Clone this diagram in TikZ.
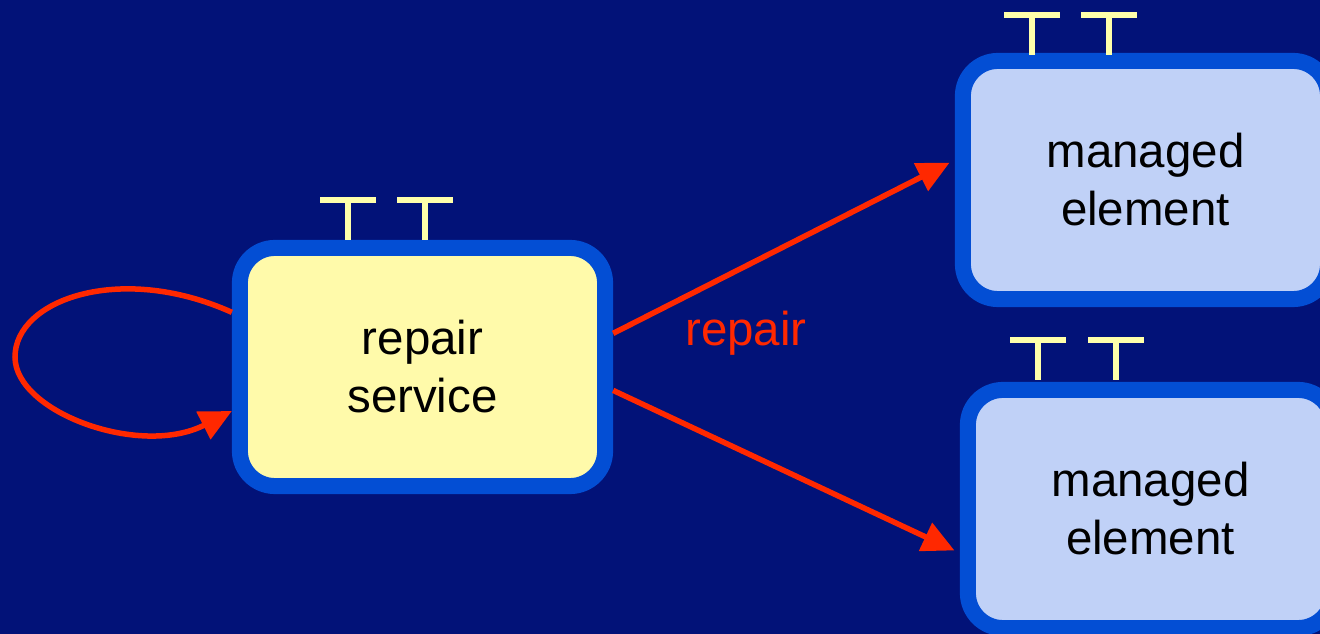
\documentclass[tikz,border=0pt]{standalone}
\usepackage{fontspec}
\setmainfont{Liberation Sans}
\usetikzlibrary{arrows.meta}

\definecolor{slidebg}{RGB}{2,18,120}
\definecolor{boxblue}{RGB}{3,78,212}
\definecolor{svcyellow}{RGB}{255,250,170}
\definecolor{elemblue}{RGB}{192,209,247}
\definecolor{flowred}{RGB}{255,40,0}
\definecolor{portyellow}{RGB}{255,255,170}

\begin{document}
\begin{tikzpicture}[x=0.01cm, y=-0.01cm,
    every node/.style={font=\fontsize{13.5}{16.5}\selectfont},
    block/.style={draw=boxblue, line width=0.16cm, rounded corners=0.35cm,
      minimum width=3.65cm, minimum height=2.38cm, align=center, inner sep=0pt},
    flow/.style={draw=flowred, line width=0.055cm,
      -{Triangle[length=0.32cm, width=0.3cm]}, shorten >=0.06cm},
    portline/.style={draw=portyellow, line width=0.055cm},
    tport/.pic={\draw[portline] (-28,0) -- (28,0) (0,0) -- (0,40);}]
  \fill[slidebg] (0,0) rectangle (1320,634);
  \useasboundingbox (0,0) rectangle (1320,634);

  \node[block, fill=svcyellow] (rs) at (422.5,367) {repair\\service};
  \node[block, fill=elemblue] (me1) at (1145.5,180) {managed\\element};
  \node[block, fill=elemblue] (me2) at (1150.5,509) {managed\\element};

  % interface ports on top of each box
  \pic at (348,200) {tport};
  \pic at (425,200) {tport};
  \pic at (1032,15) {tport};
  \pic at (1109,15) {tport};
  \pic at (1038,340) {tport};
  \pic at (1116,340) {tport};

  \draw[flow] (rs.10) -- (me1.174);
  \draw[flow] (rs.-7) -- (me2.193);
  \node[text=flowred] (replbl) at (746,333) {repair};

  % self repair loop
  \draw[flow, shorten >=0pt] (rs.164) .. controls (120,262) and (15,300) .. (15,357)
    .. controls (15,412) and (140,458) .. (rs.193);
\end{tikzpicture}
\end{document}
